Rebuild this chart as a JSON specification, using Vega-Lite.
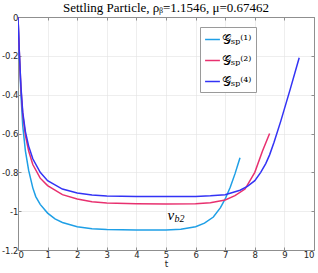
{
  "$schema": "https://vega.github.io/schema/vega-lite/v6.json",
  "width": 296,
  "height": 233,
  "autosize": "none",
  "padding": {"left": 18, "top": 17, "right": 4, "bottom": 23},
  "background": "white",
  "title": {"text": "Settling Particle, ρᵦ=1.1546, μ=0.67462", "font": "Liberation Serif", "fontSize": 13, "fontWeight": "normal", "color": "#000000", "offset": 3, "dy": 5, "frame": "group", "anchor": "middle"},
  "config": {
    "view": {"stroke": null},
    "axis": {"labelFont": "DejaVu Sans", "labelFontSize": 8.5, "labelColor": "#262626", "titleFont": "DejaVu Sans", "titleFontSize": 9, "titleFontWeight": "normal", "titleColor": "#262626", "domainColor": "#8f8f8f", "tickColor": "#8f8f8f", "gridColor": "#e3e3e3", "gridWidth": 0.6, "tickSize": -3}
  },
  "datasets": {
    "curves": [
      {"series": "𝒢ₛₚ⁽¹⁾", "t": 0, "v": 0},
      {"series": "𝒢ₛₚ⁽¹⁾", "t": 0.05, "v": -0.21},
      {"series": "𝒢ₛₚ⁽¹⁾", "t": 0.1, "v": -0.4},
      {"series": "𝒢ₛₚ⁽¹⁾", "t": 0.16, "v": -0.56},
      {"series": "𝒢ₛₚ⁽¹⁾", "t": 0.25, "v": -0.69},
      {"series": "𝒢ₛₚ⁽¹⁾", "t": 0.36, "v": -0.79},
      {"series": "𝒢ₛₚ⁽¹⁾", "t": 0.5, "v": -0.88},
      {"series": "𝒢ₛₚ⁽¹⁾", "t": 0.6, "v": -0.925},
      {"series": "𝒢ₛₚ⁽¹⁾", "t": 0.75, "v": -0.965},
      {"series": "𝒢ₛₚ⁽¹⁾", "t": 1, "v": -1.01},
      {"series": "𝒢ₛₚ⁽¹⁾", "t": 1.25, "v": -1.04},
      {"series": "𝒢ₛₚ⁽¹⁾", "t": 1.5, "v": -1.058},
      {"series": "𝒢ₛₚ⁽¹⁾", "t": 2, "v": -1.08},
      {"series": "𝒢ₛₚ⁽¹⁾", "t": 2.5, "v": -1.09},
      {"series": "𝒢ₛₚ⁽¹⁾", "t": 3, "v": -1.095},
      {"series": "𝒢ₛₚ⁽¹⁾", "t": 4, "v": -1.097},
      {"series": "𝒢ₛₚ⁽¹⁾", "t": 5, "v": -1.097},
      {"series": "𝒢ₛₚ⁽¹⁾", "t": 5.5, "v": -1.093},
      {"series": "𝒢ₛₚ⁽¹⁾", "t": 6, "v": -1.08},
      {"series": "𝒢ₛₚ⁽¹⁾", "t": 6.3, "v": -1.062},
      {"series": "𝒢ₛₚ⁽¹⁾", "t": 6.6, "v": -1.03},
      {"series": "𝒢ₛₚ⁽¹⁾", "t": 6.84, "v": -0.982},
      {"series": "𝒢ₛₚ⁽¹⁾", "t": 7, "v": -0.937},
      {"series": "𝒢ₛₚ⁽¹⁾", "t": 7.17, "v": -0.877},
      {"series": "𝒢ₛₚ⁽¹⁾", "t": 7.33, "v": -0.808},
      {"series": "𝒢ₛₚ⁽¹⁾", "t": 7.5, "v": -0.725},
      {"series": "𝒢ₛₚ⁽²⁾", "t": 0, "v": 0},
      {"series": "𝒢ₛₚ⁽²⁾", "t": 0.05, "v": -0.2},
      {"series": "𝒢ₛₚ⁽²⁾", "t": 0.1, "v": -0.37},
      {"series": "𝒢ₛₚ⁽²⁾", "t": 0.16, "v": -0.5},
      {"series": "𝒢ₛₚ⁽²⁾", "t": 0.25, "v": -0.61},
      {"series": "𝒢ₛₚ⁽²⁾", "t": 0.36, "v": -0.69},
      {"series": "𝒢ₛₚ⁽²⁾", "t": 0.5, "v": -0.76},
      {"series": "𝒢ₛₚ⁽²⁾", "t": 0.75, "v": -0.83},
      {"series": "𝒢ₛₚ⁽²⁾", "t": 1, "v": -0.868},
      {"series": "𝒢ₛₚ⁽²⁾", "t": 1.5, "v": -0.915},
      {"series": "𝒢ₛₚ⁽²⁾", "t": 2, "v": -0.937},
      {"series": "𝒢ₛₚ⁽²⁾", "t": 2.5, "v": -0.951},
      {"series": "𝒢ₛₚ⁽²⁾", "t": 3, "v": -0.958},
      {"series": "𝒢ₛₚ⁽²⁾", "t": 4, "v": -0.962},
      {"series": "𝒢ₛₚ⁽²⁾", "t": 5, "v": -0.963},
      {"series": "𝒢ₛₚ⁽²⁾", "t": 6, "v": -0.962},
      {"series": "𝒢ₛₚ⁽²⁾", "t": 6.5, "v": -0.957},
      {"series": "𝒢ₛₚ⁽²⁾", "t": 7, "v": -0.942},
      {"series": "𝒢ₛₚ⁽²⁾", "t": 7.33, "v": -0.92},
      {"series": "𝒢ₛₚ⁽²⁾", "t": 7.67, "v": -0.886},
      {"series": "𝒢ₛₚ⁽²⁾", "t": 8, "v": -0.8},
      {"series": "𝒢ₛₚ⁽²⁾", "t": 8.26, "v": -0.69},
      {"series": "𝒢ₛₚ⁽²⁾", "t": 8.5, "v": -0.6},
      {"series": "𝒢ₛₚ⁽⁴⁾", "t": 0, "v": 0},
      {"series": "𝒢ₛₚ⁽⁴⁾", "t": 0.05, "v": -0.2},
      {"series": "𝒢ₛₚ⁽⁴⁾", "t": 0.1, "v": -0.36},
      {"series": "𝒢ₛₚ⁽⁴⁾", "t": 0.16, "v": -0.49},
      {"series": "𝒢ₛₚ⁽⁴⁾", "t": 0.25, "v": -0.59},
      {"series": "𝒢ₛₚ⁽⁴⁾", "t": 0.36, "v": -0.665},
      {"series": "𝒢ₛₚ⁽⁴⁾", "t": 0.5, "v": -0.73},
      {"series": "𝒢ₛₚ⁽⁴⁾", "t": 0.75, "v": -0.8},
      {"series": "𝒢ₛₚ⁽⁴⁾", "t": 1, "v": -0.843},
      {"series": "𝒢ₛₚ⁽⁴⁾", "t": 1.5, "v": -0.886},
      {"series": "𝒢ₛₚ⁽⁴⁾", "t": 2, "v": -0.906},
      {"series": "𝒢ₛₚ⁽⁴⁾", "t": 2.5, "v": -0.917},
      {"series": "𝒢ₛₚ⁽⁴⁾", "t": 3, "v": -0.922},
      {"series": "𝒢ₛₚ⁽⁴⁾", "t": 4, "v": -0.925},
      {"series": "𝒢ₛₚ⁽⁴⁾", "t": 5, "v": -0.925},
      {"series": "𝒢ₛₚ⁽⁴⁾", "t": 6, "v": -0.924},
      {"series": "𝒢ₛₚ⁽⁴⁾", "t": 6.5, "v": -0.921},
      {"series": "𝒢ₛₚ⁽⁴⁾", "t": 7, "v": -0.915},
      {"series": "𝒢ₛₚ⁽⁴⁾", "t": 7.5, "v": -0.892},
      {"series": "𝒢ₛₚ⁽⁴⁾", "t": 7.75, "v": -0.872},
      {"series": "𝒢ₛₚ⁽⁴⁾", "t": 8, "v": -0.843},
      {"series": "𝒢ₛₚ⁽⁴⁾", "t": 8.2, "v": -0.8},
      {"series": "𝒢ₛₚ⁽⁴⁾", "t": 8.37, "v": -0.755},
      {"series": "𝒢ₛₚ⁽⁴⁾", "t": 8.5, "v": -0.71},
      {"series": "𝒢ₛₚ⁽⁴⁾", "t": 8.65, "v": -0.645},
      {"series": "𝒢ₛₚ⁽⁴⁾", "t": 8.88, "v": -0.535},
      {"series": "𝒢ₛₚ⁽⁴⁾", "t": 9.2, "v": -0.37},
      {"series": "𝒢ₛₚ⁽⁴⁾", "t": 9.5, "v": -0.21}
    ],
    "notes": [
      {"t": 5.05, "v": -1.02, "main": "v", "sub": "b2"}
    ]
  },
  "layer": [
    {
      "data": {"name": "curves"},
      "mark": {"type": "line", "strokeWidth": 1.5, "clip": true},
      "encoding": {
        "x": {"field": "t", "type": "quantitative", "scale": {"domain": [0, 10], "nice": false},
              "axis": {"orient": "bottom", "values": [0,1,2,3,4,5,6,7,8,9,10], "title": "t", "titlePadding": 1, "labelPadding": 3, "grid": true}},
        "y": {"field": "v", "type": "quantitative", "scale": {"domain": [-1.2, 0], "nice": false, "zero": false},
              "axis": {"orient": "left", "values": [0,-0.2,-0.4,-0.6,-0.8,-1,-1.2], "title": null, "labelExpr": "replace(format(datum.value, ''), '−', '-')", "labelPadding": 3, "grid": true}},
        "color": {"field": "series", "type": "nominal",
                  "scale": {"domain": ["𝒢ₛₚ⁽¹⁾", "𝒢ₛₚ⁽²⁾", "𝒢ₛₚ⁽⁴⁾"], "range": ["#1e9fe6", "#e8306f", "#3333f5"]},
                  "legend": {"orient": "none", "legendX": 182, "legendY": 10, "title": null, "symbolType": "stroke", "symbolSize": 220, "symbolStrokeWidth": 1.5, "strokeColor": "#9a9a9a", "fillColor": "white", "padding": 4, "labelFont": "DejaVu Serif", "labelFontSize": 12.5, "labelColor": "#000000", "rowPadding": 6, "labelOffset": 1}},
        "order": {"field": "t", "type": "quantitative"}
      }
    },
    {
      "data": {"name": "notes"},
      "mark": {"type": "text", "font": "Liberation Serif", "fontStyle": "italic", "fontSize": 15, "align": "left", "baseline": "middle", "color": "#000000"},
      "encoding": {
        "x": {"field": "t", "type": "quantitative",
              "axis": {"orient": "top", "values": [0,1,2,3,4,5,6,7,8,9,10], "labels": false, "title": null, "grid": false, "maxExtent": 0, "minExtent": 0}},
        "y": {"field": "v", "type": "quantitative",
              "axis": {"orient": "right", "values": [0,-0.2,-0.4,-0.6,-0.8,-1,-1.2], "labels": false, "title": null, "grid": false, "maxExtent": 0, "minExtent": 0}},
        "text": {"field": "main"}
      }
    },
    {
      "data": {"name": "notes"},
      "mark": {"type": "text", "font": "Liberation Serif", "fontStyle": "italic", "fontSize": 10, "align": "left", "baseline": "middle", "dx": 7, "dy": 4, "color": "#000000"},
      "encoding": {
        "x": {"field": "t", "type": "quantitative", "axis": null},
        "y": {"field": "v", "type": "quantitative", "axis": null},
        "text": {"field": "sub"}
      }
    }
  ],
  "resolve": {"axis": {"x": "independent", "y": "independent"}}
}
